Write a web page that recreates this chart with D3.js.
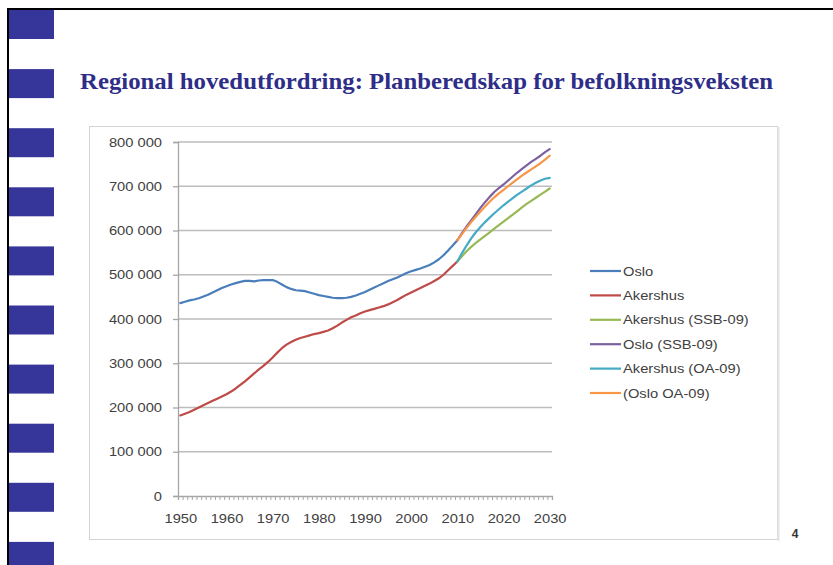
<!DOCTYPE html>
<html><head><meta charset="utf-8">
<script src="https://cdn.jsdelivr.net/npm/d3@7"></script>
<style>
html,body{margin:0;padding:0;background:#fff;}
svg{display:block;}
</style></head>
<body>
<svg id="c" width="833" height="565"></svg>
<script>
// ---- data (population, thousands) ----
const histYears = d3.range(1950, 2011);
const oslo = [436,439,442,444,447,451,455,460,465,470,
  474,478,481,484,486,486,485,487,488,488,
  488,484,478,472,468,465,464,463,460,457,
  454,452,450,448,447,447,448,450,453,457,
  461,466,471,476,481,486,490,494,499,504,
  508,511,514,518,522,528,535,544,555,566,578];
const akershus = [182,186,190,195,200,205,210,215,220,225,
  230,236,243,251,259,268,277,286,294,303,
  313,324,334,342,348,353,357,360,363,366,
  368,371,374,379,385,392,398,404,408,413,
  417,420,423,426,429,433,438,443,449,455,
  460,465,470,475,480,486,492,500,510,520,530];
const projYears = d3.range(2010, 2031);
const akershusSSB = [530,542,553,563,572,580,588,596,604,612,620,628,636,644,652,660,667,674,681,688,695];
const osloSSB = [578,594,609,623,637,651,664,676,687,696,704,713,722,731,739,747,755,762,769,777,784];
const akershusOA = [530,549,566,582,596,608,619,629,639,648,657,665,673,681,688,695,702,708,713,717,719];
const osloOA = [578,592,606,619,631,643,654,665,675,684,692,700,708,716,724,731,738,745,752,760,769];

const seriesNames = ["Oslo","Akershus","Akershus (SSB-09)","Oslo (SSB-09)","Akershus (OA-09)","(Oslo OA-09)"];
const seriesColors = ["#4a7ebb","#be4b48","#98b954","#7d60a0","#46aac5","#f79646"];
const xLabelYears = [1950,1960,1970,1980,1990,2000,2010,2020,2030];
const yTicks = [0,100,200,300,400,500,600,700,800];
const yTickLabels = ["0","100 000","200 000","300 000","400 000","500 000","600 000","700 000","800 000"];
const titleText = "Regional hovedutfordring: Planberedskap for befolkningsveksten";

const series = [
  {name: seriesNames[0], years: histYears, values: oslo},
  {name: seriesNames[1], years: histYears, values: akershus},
  {name: seriesNames[2], years: projYears, values: akershusSSB},
  {name: seriesNames[3], years: projYears, values: osloSSB},
  {name: seriesNames[4], years: projYears, values: akershusOA},
  {name: seriesNames[5], years: projYears, values: osloOA}
];

const svg = d3.select("#c");
const font = "'Liberation Sans',Arial,sans-serif";
const STRETCH = 1.13;
function stretch(sel){
  sel.each(function(){
    const w = this.getComputedTextLength();
    if (w > 0) d3.select(this).attr("textLength", w*STRETCH).attr("lengthAdjust","spacingAndGlyphs");
  });
}

// slide decoration
svg.append("rect").attr("x",0).attr("y",0).attr("width",833).attr("height",565).attr("fill","#fff");
svg.selectAll("rect.sq").data(d3.range(10)).enter().append("rect")
  .attr("class","sq").attr("x",9).attr("y",d=>10+d*59.1).attr("width",45).attr("height",29)
  .attr("fill","#36369a");
svg.append("line").attr("x1",8).attr("x2",8).attr("y1",8).attr("y2",565).attr("stroke","#000").attr("stroke-width",2);
svg.append("line").attr("x1",7).attr("x2",833).attr("y1",9).attr("y2",9).attr("stroke","#000").attr("stroke-width",2);

svg.append("text").attr("x",80).attr("y",89)
  .attr("font-family","'Liberation Serif','Times New Roman',serif").attr("font-weight","bold")
  .attr("font-size",23).attr("fill","#2e2e88")
  .attr("textLength",693).attr("lengthAdjust","spacingAndGlyphs")
  .text(titleText);

svg.append("text").attr("x",795).attr("y",538).attr("text-anchor","middle")
  .attr("font-family",font).attr("font-weight","bold")
  .attr("font-size",12).attr("fill","#333").text("4");

// chart frame
svg.append("rect").attr("x",89.5).attr("y",126.5).attr("width",688).attr("height",413)
  .attr("fill","#fff").attr("stroke","#d4d4d4").attr("stroke-width",1);
svg.append("line").attr("x1",778.5).attr("x2",778.5).attr("y1",127).attr("y2",541).attr("stroke","#e6e6e6").attr("stroke-width",2);

// scales
const x0 = 178, x1 = 552, yTop = 142, yBot = 496;
const x = d3.scaleLinear().domain([1949.5, 2030.5]).range([x0, x1]);
const y = d3.scaleLinear().domain([0, 800]).range([yBot, yTop]);

// gridlines
const grid = svg.append("g");
grid.selectAll("line").data(yTicks.filter(d=>d>0)).enter().append("line")
  .attr("x1",x0).attr("x2",x1).attr("y1",d=>y(d)).attr("y2",d=>y(d))
  .attr("stroke","#bdbdbd").attr("stroke-width",1.3);

// y axis
const yAxis = svg.append("g").attr("transform",`translate(${x0},0)`)
  .call(d3.axisLeft(y).tickValues(yTicks).tickSize(5).tickPadding(11)
    .tickFormat((d,i)=>yTickLabels[i]));
yAxis.select(".domain").attr("stroke","#a6a6a6").attr("stroke-width",1.3);
yAxis.selectAll(".tick line").attr("stroke","#a6a6a6").attr("stroke-width",1.3);
yAxis.selectAll("text").attr("font-family",font).attr("font-size",13).attr("fill","#404040").call(stretch);

// x axis: minor tick marks at category boundaries
const boundaries = d3.range(1949.5, 2031, 1);
const xAxis = svg.append("g").attr("transform",`translate(0,${yBot})`)
  .call(d3.axisBottom(x).tickValues(boundaries).tickSize(4).tickFormat(""));
xAxis.select(".domain").attr("stroke","#a6a6a6").attr("stroke-width",1.3);
xAxis.selectAll(".tick line").attr("stroke","#a6a6a6").attr("stroke-width",1);

const xLab = svg.append("g").attr("transform",`translate(0,${yBot})`)
  .call(d3.axisBottom(x).tickValues(xLabelYears).tickSize(0).tickPadding(17.5).tickFormat(d3.format("d")));
xLab.select(".domain").remove();
xLab.selectAll("text").attr("font-family",font).attr("font-size",13).attr("fill","#404040").call(stretch);

// lines
const line = d3.line().x(d=>x(d[0])).y(d=>y(d[1])).curve(d3.curveLinear);
svg.append("g").selectAll("path").data(series).enter().append("path")
  .attr("d",s=>line(s.years.map((yr,i)=>[yr, s.values[i]])))
  .attr("fill","none").attr("stroke",(s,i)=>seriesColors[i])
  .attr("stroke-width",2.2).attr("stroke-linejoin","round").attr("stroke-linecap","round");

// legend
const leg = svg.append("g").attr("transform","translate(590,271)");
const items = leg.selectAll("g").data(seriesNames).enter().append("g")
  .attr("transform",(d,i)=>`translate(0,${i*24.4})`);
items.append("line").attr("x1",0).attr("x2",31).attr("y1",0).attr("y2",0)
  .attr("stroke",(d,i)=>seriesColors[i]).attr("stroke-width",2.2);
items.append("text").attr("x",33).attr("y",0).attr("dy","0.35em")
  .attr("font-family",font).attr("font-size",13).attr("fill","#404040").text(d=>d).call(stretch);
</script>
</body></html>
